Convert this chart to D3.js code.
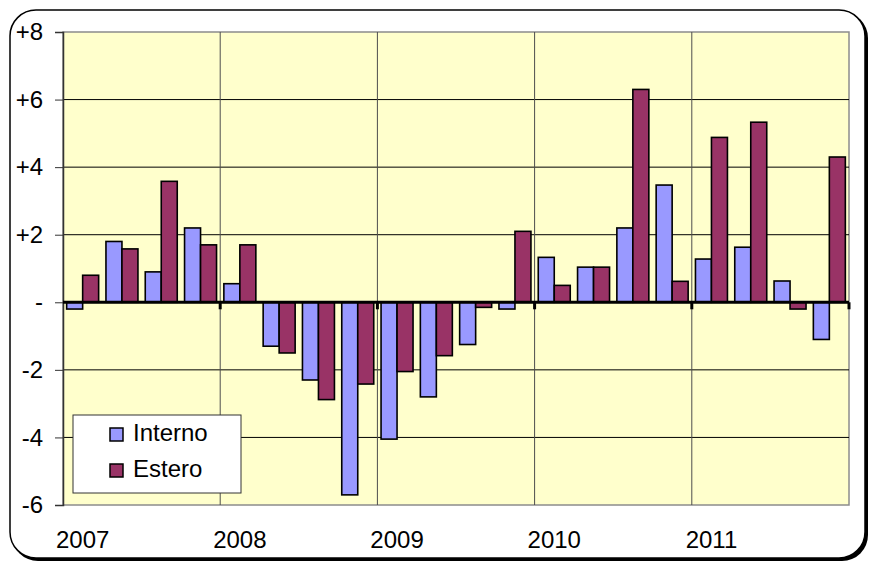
<!DOCTYPE html>
<html>
<head>
<meta charset="utf-8">
<script src="https://cdn.jsdelivr.net/npm/d3@7"></script>
<style>
body { margin: 0; background: #fff; }
svg { display: block; }
text { font-family: 'Liberation Sans', Arial, sans-serif; }
</style>
</head>
<body>
<svg id="chart" width="870" height="563"></svg>
<script>
// ---------- data ----------
var years = ["2007", "2008", "2009", "2010", "2011"];
var quarters = ["Q1", "Q2", "Q3", "Q4"];
var seriesNames = ["Interno", "Estero"];
var interno = [-0.2, 1.8, 0.9, 2.2, 0.55, -1.3, -2.3, -5.7, -4.05, -2.8, -1.25, -0.2,
               1.33, 1.04, 2.2, 3.47, 1.28, 1.63, 0.63, -1.1];
var estero = [0.8, 1.58, 3.58, 1.7, 1.7, -1.5, -2.88, -2.42, -2.05, -1.58, -0.15, 2.1,
              0.5, 1.04, 6.3, 0.62, 4.88, 5.33, -0.2, 4.3];
var yTicks = [8, 6, 4, 2, 0, -2, -4, -6];
var colors = ["#9999ff", "#993366"];

var FONT = "'Liberation Sans', Arial, sans-serif";

// ---------- layout ----------
var svg = d3.select("#chart");
var plot = {left: 63, top: 32, right: 849, bottom: 505};

var periods = [];
years.forEach(function (y) {
	quarters.forEach(function (q) { periods.push(y + q); });
});

var xScale = d3.scaleBand()
	.domain(periods)
	.range([plot.left, plot.right])
	.padding(0);
var xYear = d3.scaleBand()
	.domain(years)
	.range([plot.left, plot.right])
	.padding(0);
var step = xScale.bandwidth();
var xInner = d3.scaleBand()
	.domain(seriesNames)
	.range([step * 0.093, step * 0.907])
	.padding(0);
var yScale = d3.scaleLinear()
	.domain([-6, 8])
	.range([plot.bottom, plot.top]);

// ---------- outer frame ----------
svg.append("rect")
	.attr("x", 12).attr("y", 12)
	.attr("width", 856).attr("height", 549)
	.attr("rx", 26).attr("ry", 26)
	.attr("fill", "#000");
svg.append("rect")
	.attr("x", 10).attr("y", 10)
	.attr("width", 855).attr("height", 548)
	.attr("rx", 26).attr("ry", 26)
	.attr("fill", "#fff")
	.attr("stroke", "#000")
	.attr("stroke-width", 1.5);

// ---------- plot area ----------
svg.append("rect")
	.attr("x", plot.left).attr("y", plot.top)
	.attr("width", plot.right - plot.left)
	.attr("height", plot.bottom - plot.top)
	.attr("fill", "#ffffcc")
	.attr("stroke", "#8c8c8c")
	.attr("stroke-width", 1.5);

// horizontal grid
svg.append("g")
	.selectAll("line")
	.data(yTicks.filter(function (t) { return t !== 0 && t !== -6 && t !== 8; }))
	.enter()
	.append("line")
	.attr("x1", plot.left).attr("x2", plot.right)
	.attr("y1", function (t) { return yScale(t); })
	.attr("y2", function (t) { return yScale(t); })
	.attr("stroke", "#000")
	.attr("stroke-width", 1);

// vertical grid at year boundaries
svg.append("g")
	.selectAll("line")
	.data(years.slice(1))
	.enter()
	.append("line")
	.attr("x1", function (y) { return xYear(y); })
	.attr("x2", function (y) { return xYear(y); })
	.attr("y1", plot.top).attr("y2", plot.bottom)
	.attr("stroke", "#4d4d4d")
	.attr("stroke-width", 1);

// left axis
var yAxis = d3.axisLeft(yScale)
	.tickValues(yTicks)
	.tickSize(8)
	.tickPadding(12)
	.tickFormat(function (d) { return d > 0 ? "+" + d : (d === 0 ? "-" : String(d)); });
var gy = svg.append("g")
	.attr("transform", "translate(" + plot.left + ",0)")
	.call(yAxis);
gy.attr("font-family", FONT);
gy.select(".domain").attr("stroke", "#333").attr("stroke-width", 1.5);
gy.selectAll(".tick line").attr("stroke", "#333");
gy.selectAll("text")
	.attr("font-size", 24)
	.attr("fill", "#000")
	.attr("font-family", FONT);

// ---------- bars ----------
var groups = svg.append("g")
	.selectAll("g")
	.data(periods)
	.enter()
	.append("g")
	.attr("transform", function (p) { return "translate(" + xScale(p) + ",0)"; });

groups.selectAll("rect")
	.data(function (p, i) {
		return [
			{name: "Interno", value: interno[i]},
			{name: "Estero", value: estero[i]}
		];
	})
	.enter()
	.append("rect")
	.attr("x", function (d) { return xInner(d.name); })
	.attr("width", xInner.bandwidth())
	.attr("y", function (d) { return yScale(Math.max(0, d.value)); })
	.attr("height", function (d) { return Math.abs(yScale(d.value) - yScale(0)); })
	.attr("fill", function (d) { return colors[seriesNames.indexOf(d.name)]; })
	.attr("stroke", "#000")
	.attr("stroke-width", 1.6);

// zero line + ticks at year boundaries
svg.append("line")
	.attr("x1", plot.left).attr("x2", plot.right)
	.attr("y1", yScale(0)).attr("y2", yScale(0))
	.attr("stroke", "#000")
	.attr("stroke-width", 3);
svg.append("g")
	.selectAll("line")
	.data(years.slice(1).concat(["end"]))
	.enter()
	.append("line")
	.attr("x1", function (y) { return y === "end" ? plot.right : xYear(y); })
	.attr("x2", function (y) { return y === "end" ? plot.right : xYear(y); })
	.attr("y1", yScale(0)).attr("y2", yScale(0) + 7)
	.attr("stroke", "#000")
	.attr("stroke-width", 3);

// x labels (centered on first quarter of each year)
svg.append("g")
	.selectAll("text")
	.data(years)
	.enter()
	.append("text")
	.attr("x", function (y) { return xScale(y + "Q1") + step / 2; })
	.attr("y", 548)
	.attr("text-anchor", "middle")
	.attr("font-size", 24)
	.attr("font-family", FONT)
	.text(function (y) { return y; });

// ---------- legend ----------
var legend = svg.append("g");
legend.append("rect")
	.attr("x", 73).attr("y", 415)
	.attr("width", 168).attr("height", 78)
	.attr("fill", "#fff")
	.attr("stroke", "#333")
	.attr("stroke-width", 1);
var items = legend.selectAll("g")
	.data(seriesNames)
	.enter()
	.append("g")
	.attr("transform", function (d, i) { return "translate(110," + (428 + i * 36) + ")"; });
items.append("rect")
	.attr("width", 13).attr("height", 13)
	.attr("fill", function (d, i) { return colors[i]; })
	.attr("stroke", "#000")
	.attr("stroke-width", 1.5);
items.append("text")
	.attr("x", 23).attr("y", 13)
	.attr("font-size", 24)
	.attr("font-family", FONT)
	.text(function (d) { return d; });
</script>
</body>
</html>
